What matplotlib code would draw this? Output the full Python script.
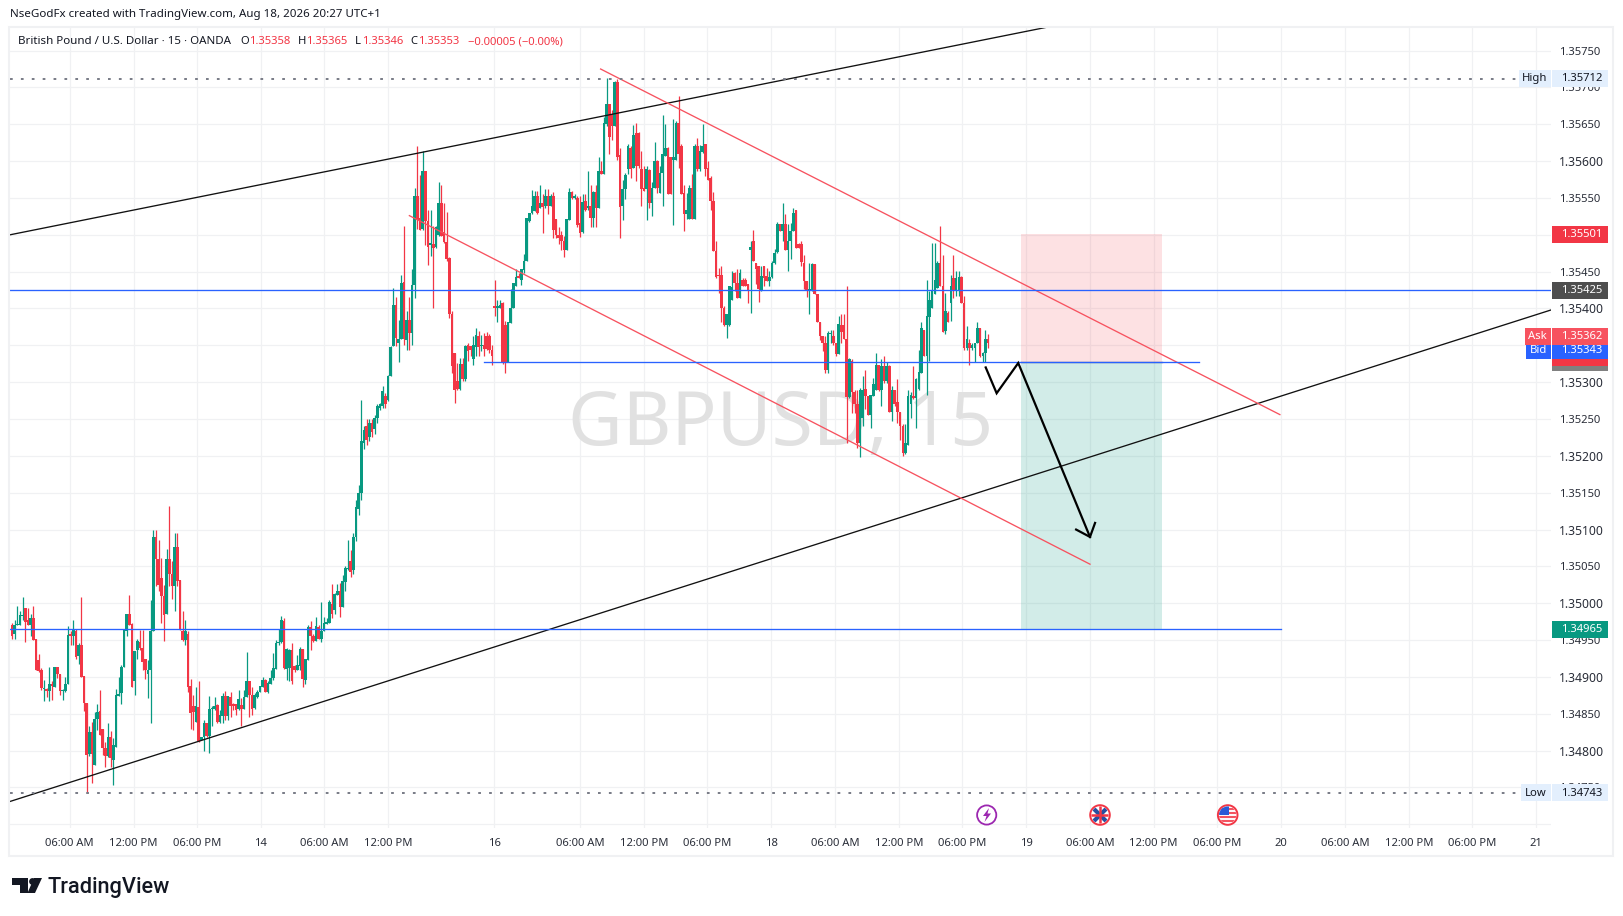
import matplotlib
matplotlib.use("Agg")
import matplotlib.pyplot as plt
import numpy as np
from matplotlib.patches import Rectangle, Circle, Polygon

plt.rcParams['font.family'] = ['Noto Sans', 'DejaVu Sans']

# candles, 15 minute bars, price = 1.25 + value / 100000
candle_dir = ("rggggrrgrr" "rrgrgrgrrg" "ggrgrgrrrg" "rggrrrgrgg" "ggggrrggrr"
              "rgggrrrrgr" "rgrrrgrrrg" "rggrgggrgg" "rgrrrgrggr" "rggggrgggg"
              "ggrggrrggr" "ggrrgrgggg" "rggrgggrgg" "gggrgrgggg" "rgggrggrgr"
              "ggrrgrrgrg" "grrrrrrrgr" "grrggrgrrr" "rrggrrgggg" "rggggggrgr"
              "grgrrrrrgg" "rgrrgrgrgr" "grggrrgrrg" "ggrgrrrrgr" "ggrgggrrgg"
              "rrrggrgrgg" "rrrrrrrrgg" "grrgrrrgrr" "rgrrggggrg" "rgggrrrrrg"
              "grrrrrggrr" "grrrgrrrgg" "rrgggrgrgr" "grrrrgggrg" "ggrgggggrr"
              "grgrggrrgr" "gggrggr")

body_top = [9971,9971,9972,9984,9984,9993,9977,9980,9980,9951,
    9923,9910,9885,9884,9891,9891,9913,9913,9904,9882,
    9891,9957,9958,9964,9963,9943,9943,9901,9864,9825,
    9825,9843,9852,9854,9829,9803,9818,9818,9808,9876,
    9877,9914,9964,9986,9986,9972,9935,9949,9948,9939,
    9925,9910,9962,10090,10090,10060,10034,10010,10060,10060,
    10040,10076,10076,10031,9963,9962,9958,9888,9860,9860,
    9859,9818,9838,9838,9857,9858,9860,9862,9848,9874,
    9874,9874,9873,9863,9863,9870,9862,9873,9895,9895,
    9876,9876,9880,9888,9896,9896,9892,9898,9912,9946,
    9947,9977,9976,9938,9937,9937,9915,9916,9938,9938,
    9924,9968,9968,9956,9969,9968,9962,9973,9974,10002,
    9999,10013,10016,10016,10030,10048,10048,10057,10090,10130,
    10150,10220,10235,10240,10245,10245,10252,10267,10270,10288,
    10281,10308,10348,10405,10405,10359,10435,10436,10384,10384,
    10432,10553,10553,10523,10586,10586,10519,10489,10488,10511,
    10543,10543,10504,10490,10469,10393,10339,10302,10325,10325,
    10349,10350,10349,10350,10364,10363,10350,10350,10363,10363,
    10343,10403,10403,10405,10408,10377,10381,10401,10435,10443,
    10444,10453,10465,10523,10530,10539,10552,10553,10543,10543,
    10553,10553,10553,10553,10522,10500,10500,10491,10521,10558,
    10558,10552,10550,10516,10545,10546,10539,10539,10558,10558,
    10586,10587,10652,10677,10677,10663,10707,10708,10608,10562,
    10581,10621,10618,10636,10638,10638,10589,10564,10589,10588,
    10564,10600,10600,10584,10609,10618,10618,10605,10605,10652,
    10652,10621,10557,10533,10564,10564,10621,10621,10614,10621,
    10623,10590,10577,10546,10478,10445,10445,10401,10392,10430,
    10429,10448,10434,10448,10439,10439,10433,10483,10492,10462,
    10458,10444,10457,10444,10443,10462,10475,10515,10514,10514,
    10515,10492,10505,10529,10533,10487,10487,10462,10437,10426,
    10461,10461,10420,10382,10362,10353,10367,10367,10363,10353,
    10379,10378,10378,10359,10332,10329,10286,10270,10290,10290,
    10291,10281,10282,10297,10323,10323,10322,10322,10322,10322,
    10290,10290,10273,10259,10240,10217,10281,10282,10281,10304,
    10314,10373,10371,10390,10412,10424,10439,10462,10462,10430,
    10396,10394,10431,10442,10442,10443,10443,10408,10359,10353,
    10351,10353,10373,10373,10340,10359,10358]

body_bot = [9956,9958,9970,9970,9983,9975,9970,9970,9950,9910,
    9908,9885,9883,9881,9881,9888,9887,9904,9881,9881,
    9881,9891,9955,9956,9927,9928,9900,9864,9794,9795,
    9796,9781,9843,9821,9803,9793,9793,9790,9787,9805,
    9874,9878,9914,9962,9970,9887,9895,9937,9939,9920,
    9910,9904,9910,9962,10060,10025,10010,9984,9986,10040,
    10023,10023,10030,9964,9950,9950,9887,9851,9852,9839,
    9813,9815,9819,9820,9820,9856,9857,9839,9839,9847,
    9847,9847,9860,9860,9855,9856,9857,9857,9873,9876,
    9857,9858,9873,9880,9887,9879,9879,9891,9898,9911,
    9946,9947,9912,9911,9912,9894,9909,9910,9915,9897,
    9896,9923,9955,9949,9949,9952,9952,9962,9972,9973,
    9986,9991,10011,9995,9995,10029,10047,10042,10045,10090,
    10128,10150,10218,10222,10225,10232,10236,10252,10265,10267,
    10270,10276,10308,10349,10360,10353,10359,10359,10357,10367,
    10367,10432,10520,10507,10508,10519,10483,10486,10482,10484,
    10500,10499,10490,10467,10393,10322,10290,10291,10291,10304,
    10304,10342,10343,10332,10348,10348,10349,10345,10345,10343,
    10335,10401,10401,10401,10328,10326,10327,10380,10401,10431,
    10442,10439,10452,10464,10519,10530,10532,10529,10537,10538,
    10539,10539,10539,10507,10500,10495,10491,10480,10480,10520,
    10550,10550,10513,10503,10504,10533,10537,10523,10523,10537,
    10537,10582,10582,10650,10633,10648,10648,10605,10538,10539,
    10562,10589,10589,10590,10594,10593,10562,10559,10562,10543,
    10543,10564,10564,10557,10584,10607,10555,10555,10602,10602,
    10609,10555,10528,10528,10522,10522,10522,10589,10589,10612,
    10589,10575,10546,10478,10443,10444,10401,10378,10377,10378,
    10411,10434,10414,10414,10431,10431,10425,10480,10464,10453,
    10426,10424,10442,10437,10437,10443,10462,10476,10505,10505,
    10480,10480,10491,10505,10482,10482,10463,10437,10424,10424,
    10424,10420,10381,10362,10353,10317,10317,10365,10353,10338,
    10338,10368,10359,10280,10280,10286,10270,10218,10218,10252,
    10281,10256,10256,10281,10289,10289,10289,10301,10301,10259,
    10259,10270,10259,10240,10204,10204,10215,10270,10279,10279,
    10291,10313,10335,10335,10388,10400,10419,10428,10430,10368,
    10369,10381,10407,10424,10424,10424,10408,10347,10347,10347,
    10347,10347,10353,10335,10335,10340,10353]

wick_hi = [9973,9977,9996,9989,10008,9993,9993,9986,9996,9951,
    9931,9912,9896,9885,9914,9894,9913,9914,9904,9883,
    9900,9969,9962,9977,9965,9946,10009,9901,9864,9833,
    9839,9853,9863,9882,9829,9812,9837,9826,9817,9883,
    9900,9916,9964,9986,10011,9973,9935,9951,9964,9964,
    9925,9923,10004,10100,10100,10086,10061,10025,10073,10132,
    10057,10095,10095,10032,9990,9977,9962,9897,9876,9887,
    9895,9819,9842,9838,9874,9860,9873,9863,9855,9878,
    9881,9874,9880,9865,9863,9882,9871,9882,9934,9895,
    9887,9878,9882,9888,9900,9897,9894,9910,9932,9950,
    9965,9983,9980,9939,9938,9946,9916,9930,9940,9938,
    9925,9971,9976,9958,9982,9971,10002,9982,9980,10005,
    10026,10014,10026,10027,10038,10050,10086,10072,10095,10140,
    10160,10276,10240,10250,10250,10250,10255,10270,10272,10295,
    10285,10310,10349,10428,10416,10384,10446,10512,10396,10416,
    10453,10564,10621,10581,10614,10586,10534,10534,10512,10512,
    10572,10568,10543,10531,10470,10396,10339,10326,10333,10333,
    10351,10353,10349,10362,10374,10369,10364,10367,10368,10365,
    10351,10439,10412,10412,10409,10383,10381,10426,10435,10453,
    10448,10454,10474,10523,10530,10561,10559,10559,10568,10555,
    10562,10562,10555,10558,10522,10510,10505,10498,10522,10564,
    10559,10555,10552,10552,10555,10555,10586,10567,10559,10568,
    10605,10600,10660,10713,10678,10670,10709,10711,10618,10575,
    10584,10623,10620,10649,10652,10640,10614,10593,10594,10589,
    10571,10626,10602,10593,10663,10650,10619,10605,10657,10654,
    10689,10623,10568,10557,10567,10582,10623,10632,10622,10650,
    10623,10600,10580,10558,10491,10455,10457,10403,10392,10431,
    10451,10449,10453,10453,10442,10441,10433,10492,10507,10462,
    10458,10458,10457,10455,10451,10464,10481,10517,10515,10543,
    10528,10514,10516,10537,10533,10489,10491,10473,10437,10462,
    10462,10461,10420,10382,10362,10362,10369,10371,10371,10353,
    10390,10392,10392,10431,10333,10331,10290,10290,10292,10308,
    10316,10281,10283,10306,10339,10323,10331,10335,10328,10323,
    10295,10290,10304,10259,10243,10243,10290,10286,10322,10305,
    10344,10381,10371,10439,10424,10489,10489,10464,10512,10472,
    10421,10396,10446,10473,10451,10451,10444,10417,10376,10358,
    10353,10353,10381,10373,10341,10371,10365]

wick_lo = [9951,9951,9970,9970,9977,9948,9970,9955,9950,9910,
    9907,9882,9868,9873,9868,9869,9886,9899,9876,9869,
    9880,9890,9943,9943,9925,9918,9900,9854,9743,9793,
    9756,9781,9828,9821,9794,9778,9792,9778,9754,9805,
    9874,9863,9913,9956,9970,9887,9876,9925,9937,9910,
    9897,9872,9838,9962,10024,10016,9973,9949,9986,10023,
    10006,9990,10023,9964,9949,9943,9879,9830,9828,9839,
    9812,9814,9799,9819,9797,9833,9855,9837,9838,9837,
    9842,9841,9846,9855,9848,9855,9833,9857,9873,9845,
    9849,9857,9871,9880,9887,9879,9878,9891,9896,9911,
    9943,9946,9911,9896,9894,9891,9907,9909,9910,9887,
    9890,9923,9936,9948,9949,9951,9948,9962,9972,9973,
    9980,9986,10011,9982,9995,10016,10045,10035,10040,10085,
    10120,10140,10210,10215,10220,10225,10230,10245,10262,10265,
    10265,10275,10308,10349,10349,10328,10359,10351,10344,10344,
    10351,10414,10508,10507,10507,10486,10459,10471,10400,10482,
    10498,10498,10489,10464,10387,10313,10272,10290,10290,10301,
    10301,10329,10335,10323,10335,10335,10342,10335,10344,10340,
    10323,10390,10381,10401,10324,10312,10327,10380,10400,10431,
    10442,10432,10448,10464,10518,10528,10532,10528,10537,10503,
    10537,10528,10539,10496,10496,10487,10480,10470,10479,10520,
    10549,10549,10510,10497,10503,10532,10534,10510,10510,10511,
    10537,10582,10582,10648,10609,10629,10648,10602,10496,10520,
    10548,10582,10577,10590,10573,10590,10539,10559,10520,10537,
    10526,10564,10557,10557,10539,10607,10555,10555,10513,10602,
    10591,10555,10505,10521,10521,10521,10522,10586,10587,10611,
    10580,10575,10534,10478,10442,10421,10381,10376,10360,10376,
    10411,10424,10414,10414,10430,10430,10408,10394,10464,10433,
    10409,10424,10430,10437,10430,10442,10461,10475,10505,10491,
    10480,10451,10467,10505,10482,10482,10457,10426,10416,10393,
    10424,10419,10381,10357,10342,10313,10313,10353,10351,10335,
    10338,10353,10358,10218,10279,10258,10258,10211,10199,10240,
    10263,10256,10238,10281,10289,10288,10267,10299,10299,10259,
    10247,10267,10245,10222,10200,10203,10215,10252,10277,10238,
    10290,10313,10335,10283,10329,10400,10419,10428,10430,10368,
    10365,10381,10383,10414,10417,10417,10408,10344,10344,10323,
    10344,10327,10353,10334,10327,10327,10346]

# x axis, bar index of each label
time_ticks = [21.6, 45.6, 69.5, 93.3, 117.1, 141.1, 180.75, 213, 237, 260.6, 284.6, 308.6,
              332.6, 356.2, 380.3, 404.2, 428.1, 451.9, 475.9, 499.9, 523.9, 547.5, 571.5]
time_labels = ['06:00 AM', '12:00 PM', '06:00 PM', '14', '06:00 AM', '12:00 PM', '16',
               '06:00 AM', '12:00 PM', '06:00 PM', '18', '06:00 AM', '12:00 PM', '06:00 PM',
               '19', '06:00 AM', '12:00 PM', '06:00 PM', '20', '06:00 AM', '12:00 PM',
               '06:00 PM', '21']
price_ticks = [1.347, 1.3475, 1.348, 1.3485, 1.349, 1.3495, 1.35, 1.3505, 1.351, 1.3515, 1.352,
               1.3525, 1.353, 1.3535, 1.354, 1.3545, 1.355, 1.3555, 1.356, 1.3565, 1.357, 1.3575]
strong_prices = [1.348, 1.349, 1.35, 1.351, 1.352, 1.353, 1.354, 1.355, 1.356]

# drawings: (bar index, price)
upper_black = ([-0.75, 388.45], [1.35500, 1.35782])
lower_black = ([-0.75, 577.06], [1.34731, 1.35398])
upper_red = ([220.7, 475.4], [1.35725, 1.35256])
lower_red = ([149.0, 404.2], [1.35526, 1.35053])
blue_levels = [(-0.75, 577.06, 1.35425), (177, 445, 1.35328), (-0.75, 475.8, 1.34965)]
zigzag = ([365.1, 369.2, 377.3, 404.2], [1.35320, 1.35285, 1.35326, 1.35090])
arrow_head = ([399.0, 404.2, 406.1], [1.35100, 1.35090, 1.35109])
position_x = (378.2, 431.2)
stop_price, entry_price, target_price = 1.35501, 1.35328, 1.34965
session_high, session_low = 1.35712, 1.34743

GREEN = '#089981'
RED = '#f23645'
BLUE = '#2962ff'
GRID = '#f0f1f3'
TXT = '#131722'

W, H = 1623, 916
fig = plt.figure(figsize=(W / 100, H / 100), dpi=100, facecolor='white')
ax = fig.add_axes([10 / W, 1 - 828 / H, (1551 - 10) / W, (828 - 27) / H])
ax.set_xlim(-0.75, 577.06)
ax.set_ylim(1.34695, 1.35782)
for s in ax.spines.values():
    s.set_visible(False)

ax.set_xticks(time_ticks)
ax.set_xticklabels(time_labels, fontsize=8.1, color='#2a2e39')
for lab in ax.get_xticklabels():
    if len(lab.get_text()) == 2:
        lab.set_fontweight('bold')
ax.yaxis.tick_right()
ax.set_yticks(price_ticks)
ax.set_yticklabels(['' if p == 1.347 else f'{p:.5f}' for p in price_ticks], fontsize=8.1, color='#2a2e39')
for p, lab in zip(price_ticks, ax.get_yticklabels()):
    if p in strong_prices:
        lab.set_fontsize(8.8)
ax.tick_params(length=0)
ax.tick_params(axis='x', pad=7.2)
ax.tick_params(axis='y', pad=5.6)
ax.grid(True, color=GRID, lw=0.9)
ax.set_axisbelow(True)

ax.text(0.5, 1.35241, 'GBPUSD, 15', transform=ax.get_yaxis_transform(), ha='center', va='center',
        fontsize=54, color='#e1e1e1', zorder=1)

# position tool
ax.axhspan(entry_price, stop_price, (position_x[0] + 0.75) / 577.81, (position_x[1] + 0.75) / 577.81,
           color=RED, alpha=0.15, lw=0, zorder=1.2)
ax.axhspan(target_price, entry_price, (position_x[0] + 0.75) / 577.81, (position_x[1] + 0.75) / 577.81,
           color=GREEN, alpha=0.18, lw=0, zorder=1.2)
ax.plot(position_x, [entry_price, entry_price], color='#808080', lw=1, zorder=1.3)

# candles
to_price = lambda v: 1.25 + np.array(v) / 100000
top, bot, hi, lo = map(to_price, (body_top, body_bot, wick_hi, wick_lo))
idx = np.arange(len(body_top))
colors = [GREEN if c == 'g' else RED for c in candle_dir]
ax.vlines(idx, lo, hi, colors=colors, lw=0.9, zorder=2)
ax.bar(idx, top - bot, bottom=bot, width=0.95, color=colors, lw=0, zorder=2.1)

# drawings
ax.plot(*upper_black, color='#111111', lw=0.95, zorder=3)
ax.plot(*lower_black, color='#111111', lw=0.95, zorder=3)
ax.plot(*upper_red, color='#f7525f', lw=0.95, zorder=3)
ax.plot(*lower_red, color='#f7525f', lw=0.95, zorder=3)
for x0, x1, lvl in blue_levels:
    ax.plot([x0, x1], [lvl, lvl], color=BLUE, lw=0.95, zorder=3.1)
ax.plot(*zigzag, color='black', lw=1.6, solid_joinstyle='miter', zorder=3.2)
ax.plot(*arrow_head, color='black', lw=1.6, solid_joinstyle='miter', zorder=3.2)

dots = (0, (1.4, 4.2))
ax.plot([-0.75, 564], [session_high] * 2, color='#787b86', lw=1.4, linestyle=dots, zorder=3)
ax.plot([-0.75, 564], [session_low] * 2, color='#787b86', lw=1.4, linestyle=dots, zorder=3)

# everything around the chart is placed in pixels on a see-through overlay
ov = fig.add_axes([0, 0, 1, 1], facecolor='none')
ov.set_xlim(0, W)
ov.set_ylim(H, 0)
ov.axis('off')


def py(price):
    return 87.5 - (price - 1.357) * 73689


def badge(price, text, color, fg='white', side=None, z=5):
    y = py(price)
    ov.add_patch(Rectangle((1552, y - 8.5), 56, 17, color=color, lw=0, zorder=z))
    ov.text(1561, y + 0.3, text, color=fg, fontsize=8.1, va='center', zorder=z + 0.1)
    if side:
        ov.add_patch(Rectangle((side[1], y - 8.5), 1551 - side[1], 17, color=color, lw=0, zorder=z))
        ov.text(1547, y + 0.3, side[0], color=fg, fontsize=8.1, va='center', ha='right', zorder=z + 0.1)


ov.add_patch(Rectangle((9, 26.5), 1604, 829, fill=False, edgecolor='#f0f1f3', lw=1.5))
badge(session_high, '1.35712', '#e3effd', TXT, ('High', 1519))
badge(session_low, '1.34743', '#e3effd', TXT, ('Low', 1521))
badge(stop_price, '1.35501', RED)
badge(1.35425, '1.35425', '#4e4e4e')
badge(target_price, '1.34965', GREEN)
# stacked labels near the last price
ov.add_patch(Rectangle((1552, 355), 56, 16, color='#808080', lw=0, zorder=5))
ov.text(1561, 362, '1.35327', color='white', fontsize=8.1, va='center', zorder=5.1)
ov.add_patch(Rectangle((1552, 345), 56, 21, color=RED, lw=0, zorder=5.2))
ov.text(1563, 356, '02:19', color='white', fontsize=8.1, va='center', zorder=5.3)
badge(1.35343, '1.35343', BLUE, 'white', ('Bid', 1526), z=5.4)
badge(1.35362, '1.35362', '#f7525f', 'white', ('Ask', 1525), z=5.6)

# header and legend
ov.text(10, 15, 'NseGodFx created with TradingView.com, Aug 18, 2026 20:27 UTC+1', color=TXT, fontsize=8.3, va='center')
ov.text(18, 42, 'British Pound / U.S. Dollar · 15 · OANDA', color=TXT, fontsize=8.3, va='center')
for x, s, c in [(240.3, 'O', TXT), (249, '1.35358', RED), (297.7, 'H', TXT), (306, '1.35365', RED),
                (355, 'L', TXT), (361.6, '1.35346', RED), (410, 'C', TXT), (418, '1.35353', RED),
                (467.7, '−0.00005 (−0.00%)', RED)]:
    ov.text(x, 42, s, color=c, fontsize=8.1, va='center')

# logo
ov.add_patch(Polygon([(12, 878), (28, 878), (28, 893), (20, 893), (20, 885), (12, 885)], color='#131722', lw=0))
ov.add_patch(Circle((32.5, 881.5), 3.4, color='#131722', lw=0))
ov.add_patch(Polygon([(35, 893), (27.5, 893), (34, 878), (42, 878)], color='#131722', lw=0))
ov.text(48, 887, 'TradingView', color='#131722', fontsize=15.7, fontfamily='Roboto', fontweight='medium', va='center')

# event icons
ov.add_patch(Circle((986.7, 815), 9.6, facecolor='white', edgecolor='#9c27b0', lw=1.3, zorder=4))
ov.add_patch(Polygon([(989, 808), (983, 816), (986.5, 816), (984.5, 822), (991, 813.5), (987.5, 813.5)],
                     color='#9c27b0', lw=0, zorder=4.1))

uk = Circle((1100, 815), 9.8, facecolor='white', edgecolor=RED, lw=1.4, zorder=4)
ov.add_patch(uk)
clip_uk = Circle((1100, 815), 8.6, transform=ov.transData)
for pts, col, lw in [(((1091, 1109), (806, 824)), '#2a4fa0', 3.0), (((1091, 1109), (824, 806)), '#2a4fa0', 3.0),
                     (((1100, 1100), (806, 824)), RED, 1.8), (((1091, 1109), (815, 815)), RED, 1.8)]:
    l, = ov.plot(*pts, color=col, lw=lw, zorder=4.1)
    l.set_clip_path(clip_uk)

us = Circle((1227.7, 815), 9.8, facecolor='white', edgecolor=RED, lw=1.4, zorder=4)
ov.add_patch(us)
clip_us = Circle((1227.7, 815), 8.6, transform=ov.transData)
for yy in (809, 813, 817, 821):
    l, = ov.plot([1218, 1238], [yy, yy], color=RED, lw=1.5, alpha=0.85, zorder=4.1)
    l.set_clip_path(clip_us)
canton = Rectangle((1219, 806), 9.5, 8.5, color='#2a5bd7', lw=0, zorder=4.2)
ov.add_patch(canton)
canton.set_clip_path(clip_us)

fig.savefig('out.png', dpi=100)
